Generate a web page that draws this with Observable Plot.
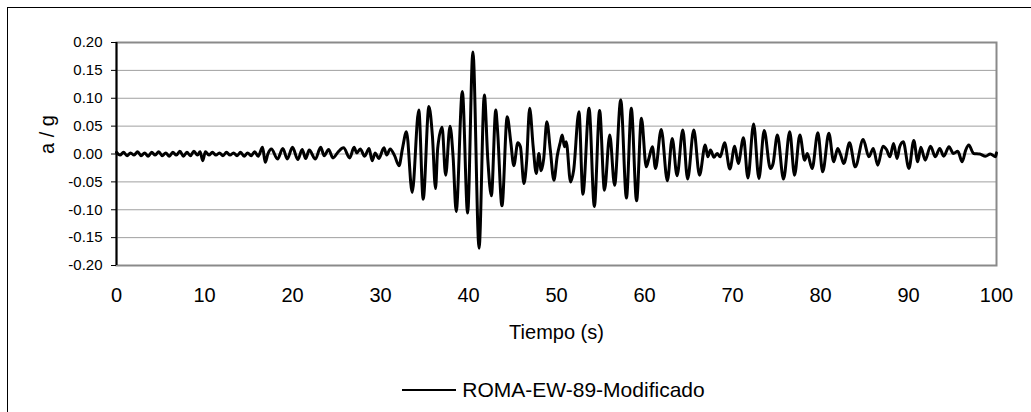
<!DOCTYPE html>
<html>
<head>
<meta charset="utf-8">
<script src="https://cdn.jsdelivr.net/npm/d3@7"></script>
<script src="https://cdn.jsdelivr.net/npm/@observablehq/plot@0.6"></script>
<style>
  html, body { margin: 0; padding: 0; background: #fff; overflow: hidden; }
  #wrap { position: relative; width: 1031px; height: 412px; overflow: hidden; font-family: "Liberation Sans", Arial, sans-serif; }
  #outer { position: absolute; left: 7px; top: 7px; width: 1100px; height: 500px; border-left: 1px solid #000; border-top: 1px solid #000; }
  #chart { position: absolute; left: 0; top: 0; }
  #legend { position: absolute; left: 0; top: 378px; width: 1107px; display: flex; justify-content: center; align-items: center; font-size: 21px; line-height: 24px; color: #000; }
  #legend .sw { width: 54px; height: 0; border-top: 2.5px solid #000; margin-right: 6px; }
</style>
</head>
<body>
<div id="wrap">
  <div id="outer"></div>
  <div id="chart"></div>
  <div id="legend"><span class="sw"></span><span>ROMA-EW-89-Modificado</span></div>
</div>
<script>
// ---- Data ----
const seriesName = "ROMA-EW-89-Modificado";
const xTicks = [0, 10, 20, 30, 40, 50, 60, 70, 80, 90, 100];
const yTicks = [-0.20, -0.15, -0.10, -0.05, 0.00, 0.05, 0.10, 0.15, 0.20];

// quiet pre-event part (0 - 32.5 s)
const tQuiet = [0.0,0.4,0.8,1.2,1.6,2.0,2.4,2.8,3.2,3.6,4.0,4.4,4.8,5.2,5.6,6.0,6.4,6.8,7.2,7.6,8.0,8.4,8.8,9.2,9.5,9.8,10.1,10.5,10.9,11.3,11.7,12.1,12.5,12.9,13.3,13.7,14.1,14.5,14.9,15.3,15.7,16.1,16.6,16.9,17.2,17.6,18.3,18.9,19.4,20.0,20.6,21.1,21.5,21.9,22.6,23.2,23.6,24.1,24.6,25.2,25.8,26.5,27.0,27.3,27.7,28.2,28.7,29.05,29.4,29.8,30.4,30.7,31.1,31.6,32.1,32.5];
const aQuiet = [0.003,-0.002,0.003,-0.003,0.002,-0.002,0.004,-0.003,0.002,-0.004,0.003,-0.002,0.004,-0.003,0.002,-0.004,0.003,-0.002,0.005,-0.004,0.003,-0.003,0.005,-0.002,0.004,-0.012,0.004,-0.002,0.003,-0.002,0.002,-0.003,0.003,-0.002,0.002,-0.003,0.003,-0.004,0.002,-0.003,0.004,-0.004,0.012,-0.015,0.000,0.009,-0.009,0.010,-0.009,0.012,-0.010,0.008,-0.008,0.007,-0.009,0.012,-0.003,0.008,-0.007,0.004,0.011,-0.007,0.012,0.002,0.009,-0.004,0.010,-0.012,0.002,-0.008,0.011,-0.002,0.009,-0.003,-0.021,0.010];

// strong motion part (32.95 - 60 s)
const tStrong = [32.95,33.6,34.35,34.85,35.5,35.9,36.25,36.5,37.0,37.4,37.9,38.25,38.6,39.3,39.9,40.5,41.2,41.8,42.2,42.6,43.1,43.3,43.8,44.4,44.8,45.15,45.6,45.9,46.3,46.6,46.95,47.35,47.7,48.0,48.25,48.55,48.9,49.3,49.7,50.1,50.4,50.65,50.9,51.1,51.6,51.95,52.55,53.0,53.7,54.3,54.9,55.45,56.05,56.6,57.3,57.95,58.5,59.1,59.65];
const aStrong = [0.040,-0.069,0.079,-0.081,0.085,0.032,-0.062,0.010,0.048,-0.038,0.050,-0.005,-0.103,0.112,-0.106,0.183,-0.169,0.106,-0.011,-0.075,0.079,0.043,-0.093,0.067,0.022,-0.021,0.020,0.013,-0.053,-0.014,0.082,0.013,-0.035,0.001,-0.030,-0.008,0.058,0.007,-0.047,-0.002,0.019,0.034,0.013,0.022,-0.050,-0.029,0.076,-0.072,0.082,-0.094,0.078,-0.065,0.034,-0.056,0.097,-0.079,0.082,-0.084,0.064];

// coda (60 - 100 s)
const tCoda = [60.2,60.5,60.9,61.25,61.9,62.6,63.15,63.7,64.35,64.9,65.6,66.25,66.9,67.2,67.5,67.9,68.25,68.6,69.1,69.7,70.25,70.65,71.25,71.75,72.4,73.0,73.6,74.3,74.6,75.1,75.8,76.5,77.05,77.65,78.2,78.5,79.05,79.7,80.25,80.95,81.5,81.95,82.3,82.65,83.3,83.95,84.85,85.5,86.0,86.5,87.1,87.5,87.9,88.3,88.7,89.0,89.4,90.05,90.6,91.05,91.4,91.9,92.5,93.05,93.55,94.0,94.6,95.1,95.6,96.1,96.5,96.85,97.4,98.1,98.75,99.3,99.9,100.0];
const aCoda = [-0.023,-0.008,0.013,-0.026,0.044,-0.048,0.028,-0.039,0.043,-0.045,0.043,-0.038,0.016,-0.005,0.007,-0.006,0.001,-0.005,0.020,-0.027,0.014,-0.017,0.029,-0.043,0.054,-0.044,0.042,-0.026,-0.018,0.034,-0.045,0.040,-0.038,0.034,-0.011,0.001,-0.026,0.038,-0.032,0.037,-0.014,0.010,-0.002,-0.017,0.020,-0.023,0.026,-0.005,0.010,-0.020,0.014,0.008,-0.005,0.019,-0.008,0.013,0.022,-0.026,0.024,-0.014,0.012,-0.011,0.014,-0.005,0.010,-0.004,0.013,0.001,0.005,-0.014,0.007,0.016,0.001,0.000,-0.004,0.000,-0.005,0.002];

const times = [...tQuiet, ...tStrong, ...tCoda];
const accels = [...aQuiet, ...aStrong, ...aCoda];
const data = times.map((t, i) => ({t, a: accels[i]}));

const font = "Liberation Sans, Arial, sans-serif";

const chart = Plot.plot({
  width: 1031,
  height: 355,
  marginLeft: 116,
  marginRight: 35,
  marginTop: 42,
  marginBottom: 90,
  style: {fontFamily: font, color: "#000", background: "transparent", overflow: "visible"},
  x: {domain: [xTicks[0], xTicks[xTicks.length - 1]]},
  y: {domain: [yTicks[0], yTicks[yTicks.length - 1]]},
  marks: [
    Plot.gridY(yTicks, {stroke: "#a0a0a0", strokeOpacity: 1, strokeWidth: 1}),
    Plot.frame({stroke: "#8a8a8a", strokeWidth: 2}),
    Plot.ruleX([xTicks[0]], {stroke: "#000", strokeWidth: 2}),
    Plot.axisY(yTicks, {
      anchor: "left", tickSize: 5, tickPadding: 9, fontSize: 15,
      tickFormat: d => d.toFixed(2), label: null, stroke: "#000"
    }),
    Plot.axisX(xTicks, {
      anchor: "bottom", tickSize: 0, tickPadding: 22, fontSize: 20,
      tickFormat: d => String(d), label: null
    }),
    Plot.line(data, {x: "t", y: "a", stroke: "#000", strokeWidth: 3, curve: "monotone-x", strokeLinejoin: "round"}),
    Plot.text(["a / g"], {text: d => d, frameAnchor: "left", dx: -69, rotate: -90, fontSize: 20, fill: "#000"}),
    Plot.text(["Tiempo (s)"], {text: d => d, frameAnchor: "bottom", dy: 73, fontSize: 20, fill: "#000"})
  ]
});
document.getElementById("chart").appendChild(chart);
</script>
</body>
</html>
